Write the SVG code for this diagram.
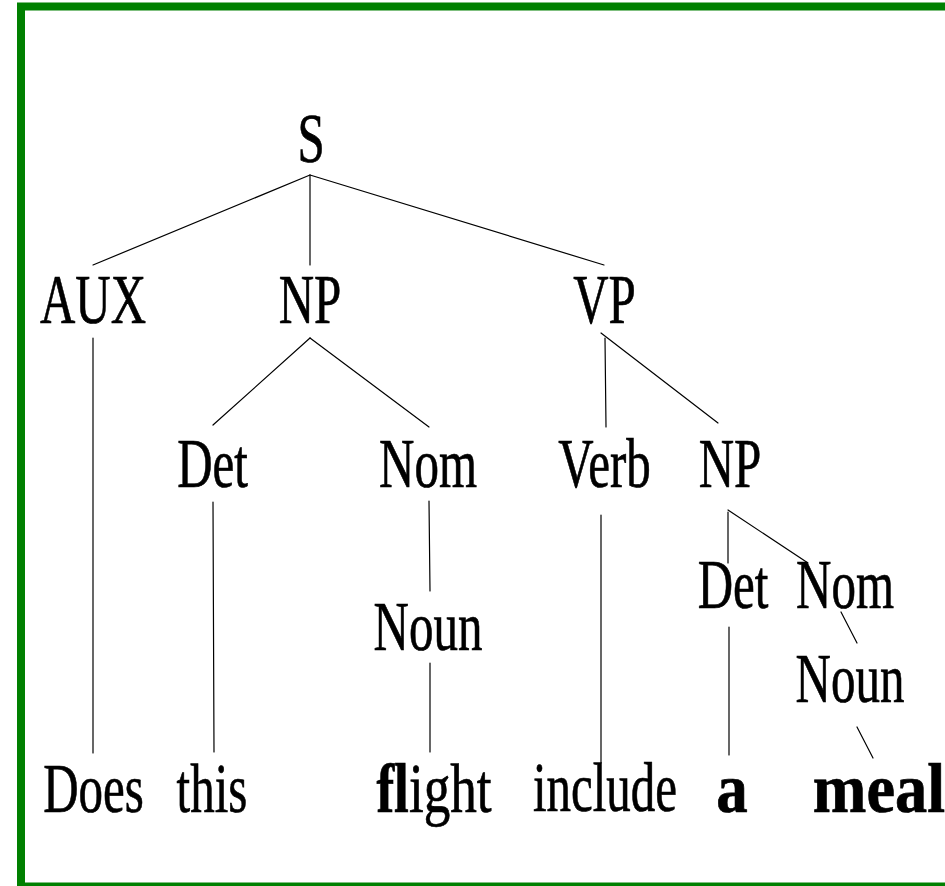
<svg xmlns="http://www.w3.org/2000/svg" width="945" height="886" viewBox="0 0 945 886">
  <style>
    .lbl { font-family: "Liberation Serif", "Times New Roman", serif; font-size: 70px; fill: #000; stroke: #000; stroke-width: 0.7; text-anchor: middle; }
    .b { font-weight: bold; }
    .edge { stroke: #000; stroke-width: 1.2; fill: none; stroke-linecap: round; }
  </style>
  <rect x="0" y="0" width="945" height="886" fill="#fff"/>
  <!-- frame -->
  <rect x="21" y="6.5" width="940" height="880" fill="none" stroke="#008000" stroke-width="8"/>

  <g id="connectors">
    <line class="edge" x1="310" y1="175" x2="93" y2="265"/>
    <line class="edge" x1="310" y1="175" x2="310" y2="265"/>
    <line class="edge" x1="310" y1="175" x2="604" y2="265"/>
    <line class="edge" x1="93" y1="338" x2="93" y2="753"/>
    <line class="edge" x1="310" y1="338" x2="213" y2="425"/>
    <line class="edge" x1="310" y1="338" x2="429" y2="427"/>
    <line class="edge" x1="213" y1="502" x2="214" y2="752"/>
    <line class="edge" x1="429" y1="501" x2="430" y2="591"/>
    <line class="edge" x1="430" y1="663" x2="430" y2="752"/>
    <line class="edge" x1="605" y1="338" x2="606" y2="427"/>
    <line class="edge" x1="601" y1="333" x2="718" y2="423"/>
    <line class="edge" x1="601" y1="515" x2="601" y2="763"/>
    <line class="edge" x1="728" y1="512" x2="728" y2="563"/>
    <line class="edge" x1="728" y1="510" x2="808" y2="563"/>
    <line class="edge" x1="729" y1="627" x2="729" y2="755"/>
    <line class="edge" x1="841" y1="612" x2="857" y2="643"/>
    <line class="edge" x1="857" y1="727" x2="873" y2="758"/>
  </g>

  <g id="S"><text class="lbl" transform="translate(311 162) scale(0.7 1)">S</text></g>
  <g id="AUX"><text class="lbl" transform="translate(93 323) scale(0.7 1)">AUX</text></g>
  <g id="NP1"><text class="lbl" transform="translate(310 323) scale(0.7 1)">NP</text></g>
  <g id="VP"><text class="lbl" transform="translate(604.5 323) scale(0.7 1)">VP</text></g>
  <g id="Det1"><text class="lbl" transform="translate(212.5 487) scale(0.7 1)">Det</text></g>
  <g id="Nom1"><text class="lbl" transform="translate(428 487) scale(0.7 1)">Nom</text></g>
  <g id="Verb"><text class="lbl" transform="translate(604.5 487) scale(0.7 1)">Verb</text></g>
  <g id="NP2"><text class="lbl" transform="translate(730 487) scale(0.7 1)">NP</text></g>
  <g id="Noun1"><text class="lbl" transform="translate(428 650) scale(0.7 1)">Noun</text></g>
  <g id="Det2"><text class="lbl" transform="translate(733 608) scale(0.7 1)">Det</text></g>
  <g id="Nom2"><text class="lbl" transform="translate(845 608) scale(0.7 1)">Nom</text></g>
  <g id="Noun2"><text class="lbl" transform="translate(850 702) scale(0.7 1)">Noun</text></g>

  <g id="w-does"><text class="lbl" transform="translate(93.5 812) scale(0.7 1)">Does</text></g>
  <g id="w-this"><text class="lbl" transform="translate(212 812) scale(0.7 1)">this</text></g>
  <g id="w-flight"><text class="lbl" transform="translate(434 812) scale(0.76 1)"><tspan class="b">fl</tspan>ight</text></g>
  <g id="w-include"><text class="lbl" transform="translate(605 811) scale(0.7 1)">include</text></g>
  <g id="w-a"><text class="lbl b" transform="translate(732 812) scale(0.9 1)">a</text></g>
  <g id="w-meal"><text class="lbl b" transform="translate(879 812) scale(0.92 1)">meal</text></g>
</svg>
